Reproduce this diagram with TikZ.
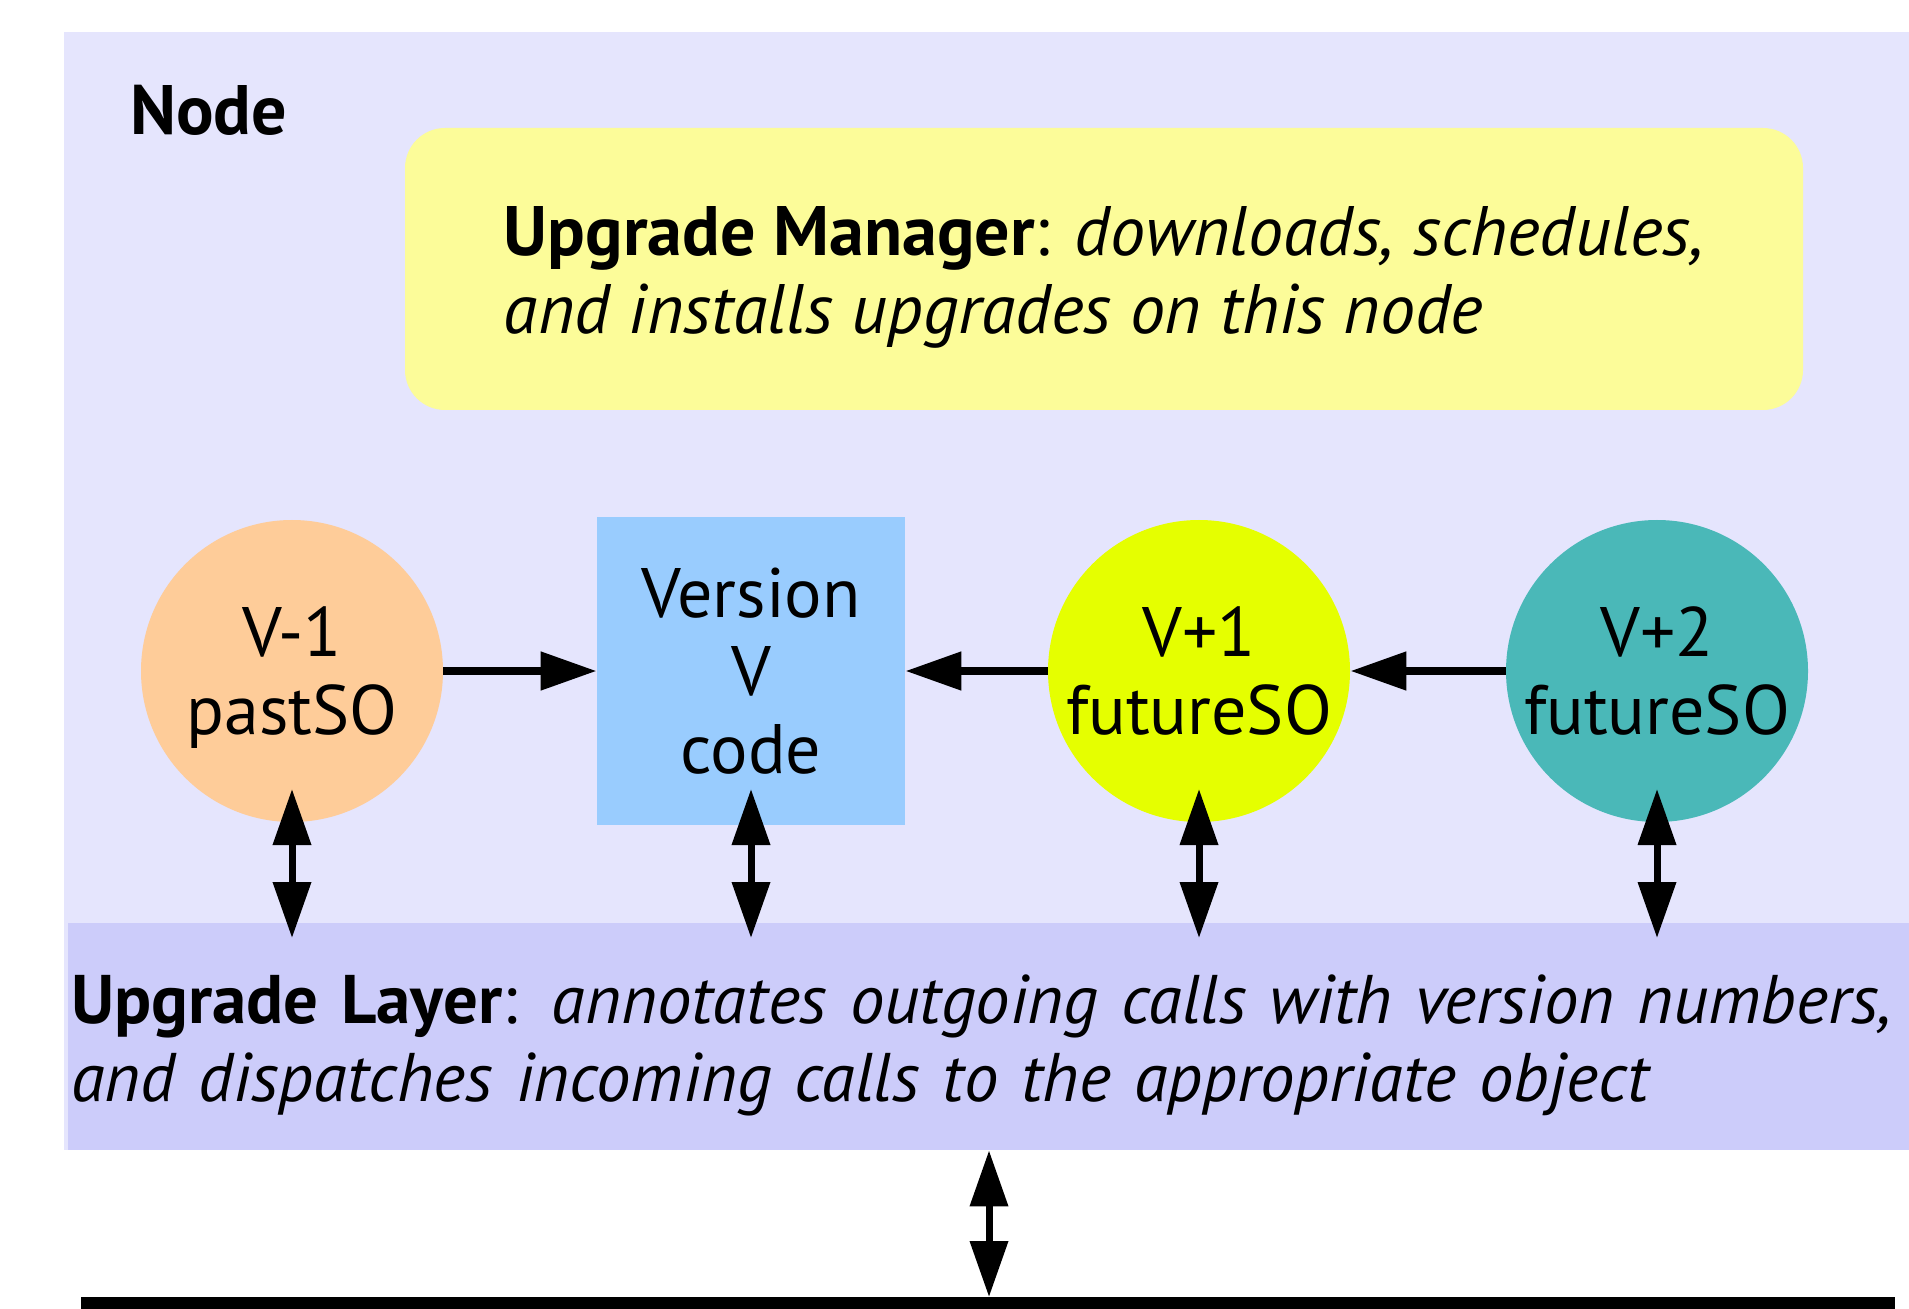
\documentclass[tikz,border=0pt]{standalone}
\usepackage{fontspec}
\setmainfont{PT Sans}
\usetikzlibrary{arrows.meta, positioning}

\definecolor{nodebg}{RGB}{229,229,253}
\definecolor{layerbg}{RGB}{204,204,250}
\definecolor{mgrbg}{RGB}{252,252,153}
\definecolor{pastbg}{RGB}{254,204,153}
\definecolor{codebg}{RGB}{153,204,254}
\definecolor{nextbg}{RGB}{229,255,0}
\definecolor{laterbg}{RGB}{74,184,184}

\tikzset{
    every node/.style={font=\fontsize{35pt}{39pt}\selectfont},
    obj/.style={circle, minimum size=151pt, inner sep=0pt, align=center},
    arr/.style={line width=4pt, -{Triangle[length=28pt,width=18.5pt]}},
    dbl/.style={line width=3.5pt, {Triangle[length=28pt,width=18.5pt]}-{Triangle[length=28pt,width=18.5pt]}}
}

\begin{document}
\begin{tikzpicture}[x=0.5pt, y=-0.5pt]
                \useasboundingbox (0,0) rectangle (1909,1309);

                % Draw the node background
                \fill[nodebg] (64,32) rectangle (1920,1150);

                % Draw the upgrade layer
                \node[fill=layerbg, minimum width=941pt, minimum height=113.5pt, text width=938pt, inner xsep=1.5pt, align=left,
                      font=\fontsize{34.4pt}{39pt}\selectfont] (layer) at (1009,1036.5)
                    {\rule{0pt}{33.5pt}\textbf{Upgrade Layer}: \textit{annotates outgoing calls with version numbers,}\\ \textit{and dispatches incoming calls to the appropriate object}};

                % Add title and upgrade manager
                \node[anchor=base west, inner sep=0pt, font=\fontsize{35pt}{39pt}\selectfont\bfseries] (title) at (130,135) {Node};
                \node[fill=mgrbg, rounded corners=20pt, minimum width=699pt, minimum height=141pt, align=left] (mgr) at (1104,269)
                    {\rule{0pt}{33pt}\textbf{Upgrade Manager}: \textit{downloads, schedules,}\\ \textit{and installs upgrades on this node}};

                % Draw the versions of the object
                \node[obj, fill=pastbg] (past) at (292,671) {V-1\\\smash{pastSO}};
                \node[fill=codebg, minimum size=154pt, inner sep=0pt, align=center] (code) at (751,671) {Version\\V\\code};
                \node[obj, fill=nextbg] (next) at (1199,671) {V+1\\futureSO};
                \node[obj, fill=laterbg] (later) at (1657,671) {V+2\\futureSO};

                % Calls between versions
                \draw[arr] (past.east) -- (code.west);
                \draw[arr] (next.west) -- (code.east);
                \draw[arr] (later.west) -- (next.east);

                % Calls through the upgrade layer
                \coordinate (tipT) at (0,789);
                \coordinate (tipB) at (0,938);
                \foreach \n in {past, code, next, later} {
                    \draw[dbl] (\n |- tipT) -- (\n |- tipB);
                }

                % Draw the network line
                \coordinate (busL) at (81,1303);
                \coordinate (busR) at (1895,1303);
                \coordinate (busT) at (989,1297);
                \draw[line width=6pt] (busL) -- (busR);
                \draw[dbl] (busT |- layer.south) -- (busT);

\end{tikzpicture}
\end{document}
